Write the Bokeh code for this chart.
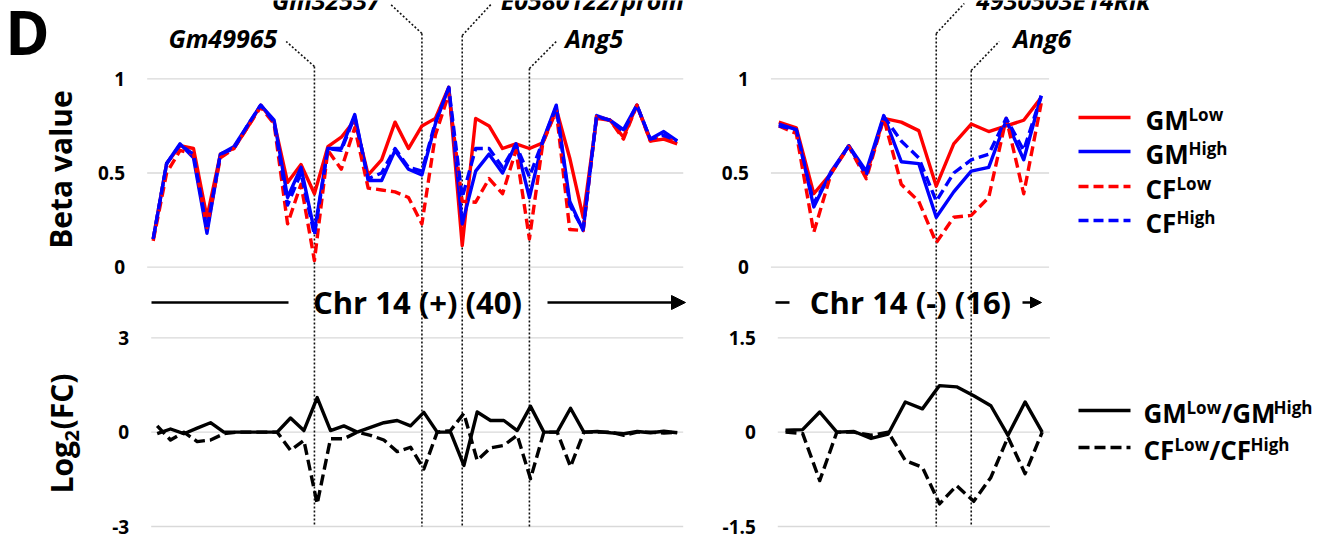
import math
from bokeh.plotting import figure
from bokeh.models import Range1d, Arrow, NormalHead
from bokeh.core.properties import value
from bokeh.embed import file_html
from bokeh.resources import INLINE

# ---------------- data ----------------
plus_idx = list(range(40))
gm_low_plus = [0.15, 0.55, 0.645, 0.63, 0.265, 0.60, 0.63, 0.74, 0.86, 0.77,
               0.45, 0.545, 0.39, 0.64, 0.69, 0.78, 0.49, 0.57, 0.77, 0.63,
               0.75, 0.79, 0.955, 0.115, 0.79, 0.75, 0.63, 0.655, 0.63, 0.66,
               0.84, 0.58, 0.265, 0.79, 0.78, 0.69, 0.86, 0.67, 0.68, 0.655]
gm_high_plus = [0.15, 0.55, 0.655, 0.58, 0.18, 0.60, 0.64, 0.75, 0.86, 0.78,
                0.37, 0.53, 0.19, 0.63, 0.63, 0.81, 0.46, 0.46, 0.62, 0.52,
                0.49, 0.76, 0.955, 0.23, 0.51, 0.60, 0.50, 0.655, 0.37, 0.67,
                0.86, 0.35, 0.195, 0.805, 0.78, 0.73, 0.86, 0.68, 0.72, 0.67]
cf_low_plus = [0.14, 0.50, 0.62, 0.60, 0.21, 0.58, 0.63, 0.74, 0.85, 0.76,
               0.23, 0.44, 0.035, 0.62, 0.52, 0.74, 0.42, 0.41, 0.40, 0.37,
               0.23, 0.70, 0.92, 0.35, 0.345, 0.47, 0.39, 0.62, 0.15, 0.66,
               0.83, 0.20, 0.195, 0.80, 0.78, 0.68, 0.86, 0.67, 0.69, 0.66]
cf_high_plus = [0.15, 0.55, 0.65, 0.60, 0.20, 0.60, 0.63, 0.75, 0.86, 0.77,
                0.33, 0.50, 0.17, 0.63, 0.62, 0.80, 0.47, 0.50, 0.63, 0.53,
                0.51, 0.77, 0.95, 0.37, 0.63, 0.63, 0.53, 0.65, 0.48, 0.67,
                0.85, 0.33, 0.20, 0.80, 0.78, 0.72, 0.86, 0.68, 0.70, 0.67]
fc_gm_plus = [-0.05, 0.10, -0.05, 0.13, 0.30, 0.0, 0.0, 0.0, 0.0, 0.0,
              0.45, 0.05, 1.10, 0.05, 0.20, 0.0, 0.15, 0.30, 0.37, 0.20,
              0.63, 0.0, 0.0, -1.06, 0.64, 0.37, 0.37, 0.05, 0.82, 0.0,
              0.0, 0.76, 0.0, 0.02, -0.02, -0.05, 0.02, -0.02, 0.03, -0.02]
fc_cf_plus = [0.20, -0.25, 0.0, -0.30, -0.25, -0.05, 0.0, 0.0, 0.0, 0.0,
              -0.58, -0.26, -2.28, -0.21, -0.21, 0.0, -0.10, -0.25, -0.62, -0.48,
              -1.17, 0.0, 0.05, 0.60, -0.90, -0.50, -0.42, -0.10, -1.48, 0.0,
              0.0, -1.10, 0.0, 0.0, 0.0, -0.10, 0.0, 0.0, -0.03, 0.0]

minus_idx = list(range(16))
gm_low_minus = [0.77, 0.74, 0.39, 0.50, 0.645, 0.49, 0.79, 0.77, 0.725, 0.43,
                0.655, 0.76, 0.72, 0.75, 0.78, 0.90]
gm_high_minus = [0.76, 0.73, 0.32, 0.51, 0.645, 0.51, 0.805, 0.56, 0.55, 0.265,
                 0.40, 0.51, 0.53, 0.78, 0.57, 0.91]
cf_low_minus = [0.75, 0.71, 0.185, 0.50, 0.64, 0.47, 0.79, 0.44, 0.35, 0.13,
                0.265, 0.275, 0.37, 0.79, 0.39, 0.87]
cf_high_minus = [0.75, 0.73, 0.34, 0.50, 0.645, 0.49, 0.80, 0.67, 0.58, 0.35,
                 0.50, 0.57, 0.60, 0.79, 0.62, 0.91]
fc_gm_minus = [0.03, 0.04, 0.32, 0.0, 0.01, -0.10, -0.03, 0.48, 0.37, 0.74,
               0.72, 0.58, 0.42, -0.05, 0.48, 0.0]
fc_cf_minus = [0.0, -0.02, -0.77, 0.0, 0.0, -0.05, 0.0, -0.45, -0.56, -1.14,
               -0.85, -1.10, -0.72, -0.08, -0.66, 0.0]

genes_plus = ["Gm49965", "Gm32537", "E0580122/prom", "Ang5"]
gene_pos_plus = [12, 20, 23, 28]
genes_minus = ["4930503E14Rik", "Ang6"]
gene_pos_minus = [9, 11]

beta_ticks = [0, 0.5, 1]
fc_ticks_plus = [-3, 0, 3]
fc_ticks_minus = [-1.5, 0, 1.5]

chr_plus_label = "Chr 14 (+) (40)"
chr_minus_label = "Chr 14 (-) (16)"
y_title_top = "Beta value"

# ---------------- layout ----------------
W, H = 1324, 541
FONT = "Open Sans"
RED, BLUE, BLACK = "#ff0000", "#0000ff", "#000000"
GRID = "#d9d9d9"


def xr(v0, p0, v1, p1):
    k = (v1 - v0) / (p1 - p0)
    s = v0 - k * p0
    return Range1d(start=s, end=s + k * W)


def yr(v0, p0, v1, p1):
    k = (v1 - v0) / (p0 - p1)
    s = v0 - k * (H - p0)
    return Range1d(start=s, end=s + k * H)


p = figure(width=W, height=H, x_range=Range1d(0, W), y_range=Range1d(H, 0),
           x_axis_location=None, y_axis_location=None, min_border=0,
           output_backend="svg", toolbar_location=None)
p.grid.visible = False
p.outline_line_color = None
p.background_fill_color = "white"
p.border_fill_color = "white"

p.extra_x_ranges = {
    "lt": xr(0, 152.7, 39, 676.7),
    "lb": xr(0, 156.7, 39, 676.7),
    "rt": xr(0, 778.3, 15, 1040.7),
    "rb": xr(0, 785.0, 15, 1041.7),
}
p.extra_y_ranges = {
    "beta": yr(0, 266.7, 1, 78.3),
    "fcl": yr(-3, 526.0, 3, 337.3),
    "fcr": yr(-1.5, 526.0, 1.5, 337.3),
}

PAD = 0.45
panels = [
    ("lt", "beta", plus_idx, beta_ticks,
     [(gm_low_plus, RED, "solid"), (gm_high_plus, BLUE, "solid"),
      (cf_low_plus, RED, "10 5"), (cf_high_plus, BLUE, "10 5")]),
    ("rt", "beta", minus_idx, beta_ticks,
     [(gm_low_minus, RED, "solid"), (gm_high_minus, BLUE, "solid"),
      (cf_low_minus, RED, "10 5"), (cf_high_minus, BLUE, "10 5")]),
    ("lb", "fcl", plus_idx, fc_ticks_plus,
     [(fc_gm_plus, BLACK, "solid"), (fc_cf_plus, BLACK, "11 5")]),
    ("rb", "fcr", minus_idx, fc_ticks_minus,
     [(fc_gm_minus, BLACK, "solid"), (fc_cf_minus, BLACK, "11 5")]),
]

for xn, yn, idx, ticks, series in panels:
    n = len(idx)
    p.segment(x0=[-PAD] * len(ticks), x1=[n - 1 + PAD] * len(ticks), y0=ticks, y1=ticks,
              x_range_name=xn, y_range_name=yn, line_color=GRID, line_width=1.3)
    p.text(x=[-PAD] * len(ticks), y=ticks, text=[f"{t:g}" for t in ticks],
           x_range_name=xn, y_range_name=yn, x_offset=-22,
           text_align="right", text_baseline="middle", text_font=value(FONT),
           text_font_style="bold", text_font_size="19px", text_color=BLACK)

# gene markers (dotted)
DOT = dict(line_color="#111111", line_width=1.6, line_dash="2 2")
gene_specs = [
    # name, x range, pos, leader dx (index units), label centre y, bend y, align, text gap
    (genes_plus[0], "lt", gene_pos_plus[0], -2.1, 37, 66, "right", 9),
    (genes_plus[1], "lt", gene_pos_plus[1], -2.4, -1, 33, "right", 9),
    (genes_plus[2], "lt", gene_pos_plus[2], 2.2, -1, 35, "left", 9),
    (genes_plus[3], "lt", gene_pos_plus[3], 2.0, 37, 68, "left", 9),
    (genes_minus[0], "rt", gene_pos_minus[0], 1.6, -1, 33, "left", 12),
    (genes_minus[1], "rt", gene_pos_minus[1], 1.6, 37, 70, "left", 14),
]
for name, xn, pos, dx, ly, by, align, gap in gene_specs:
    p.segment(x0=[pos], y0=[by], x1=[pos], y1=[526], x_range_name=xn, **DOT)
    p.segment(x0=[pos], y0=[by], x1=[pos + dx], y1=[ly + 4], x_range_name=xn, **DOT)
    p.text(x=[pos + dx], y=[ly], text=[name], x_range_name=xn,
           x_offset=(-gap if align == "right" else gap), text_align=align,
           text_baseline="middle", text_font=value(FONT),
           text_font_style="bold italic", text_font_size="25px", text_color=BLACK)

# data lines
for xn, yn, idx, ticks, series in panels:
    for vals, col, dash in series:
        p.line(idx, vals, x_range_name=xn, y_range_name=yn, line_color=col,
               line_width=3.4, line_dash=dash, line_join="round")

# ---------------- texts / annotations ----------------
def txt(x, y, s, size, style="bold", align="left", baseline="middle", angle=0.0):
    p.text(x=[x], y=[y], text=[s], text_font=value(FONT), text_font_style=style,
           text_font_size=size, text_align=align, text_baseline=baseline,
           angle=angle, text_color=BLACK)

txt(27, 31, "D", "60px", align="center")
txt(60, 169, y_title_top, "30px", align="center", angle=math.pi / 2)
txt(61, 493, "Log", "30px", angle=math.pi / 2)
txt(71, 441, "2", "20px", angle=math.pi / 2)
txt(61, 429, "(FC)", "30px", angle=math.pi / 2)

# chromosome direction bars
p.segment(x0=[151], y0=[302], x1=[288], y1=[302], line_color=BLACK, line_width=2.6)
txt(417, 301, chr_plus_label, "31px", align="center")
p.add_layout(Arrow(end=NormalHead(size=14, fill_color=BLACK, line_color=BLACK),
                   x_start=547, y_start=302, x_end=685, y_end=302,
                   line_color=BLACK, line_width=2.6))
p.segment(x0=[775], y0=[302], x1=[789], y1=[302], line_color=BLACK, line_width=2.6)
txt(910, 301, chr_minus_label, "31px", align="center")
p.add_layout(Arrow(end=NormalHead(size=11, fill_color=BLACK, line_color=BLACK),
                   x_start=1022, y_start=302, x_end=1041, y_end=302,
                   line_color=BLACK, line_width=2.6))

# legends
MAIN, SUP = "26px", "17px"
W_MAIN = {"GM": 43, "CF": 31, "/GM": 52, "/CF": 41}
W_SUP = {"Low": 35, "High": 39}
leg_top = [("GM", "Low", RED, "solid", 117), ("GM", "High", BLUE, "solid", 151),
           ("CF", "Low", RED, "10 5", 186), ("CF", "High", BLUE, "10 5", 220)]
for main, sup, col, dash, y in leg_top:
    p.line([1078, 1130], [y, y], line_color=col, line_width=3.6, line_dash=dash)
    txt(1145, y + 2.5, main, MAIN)
    txt(1145 + W_MAIN[main], y - 3.5, sup, SUP)

leg_bot = [("GM", "Low", "/GM", "High", "solid", 410),
           ("CF", "Low", "/CF", "High", "11 5", 447)]
for m1, s1, m2, s2, dash, y in leg_bot:
    p.line([1078, 1130], [y, y], line_color=BLACK, line_width=3.6, line_dash=dash)
    x = 1143
    txt(x, y + 2.5, m1, MAIN)
    x += W_MAIN[m1]
    txt(x, y - 3.5, s1, SUP)
    x += W_SUP[s1]
    txt(x, y + 2.5, m2, MAIN)
    x += W_MAIN[m2]
    txt(x, y - 3.5, s2, SUP)

open("out.html", "w").write(file_html(p, INLINE))
